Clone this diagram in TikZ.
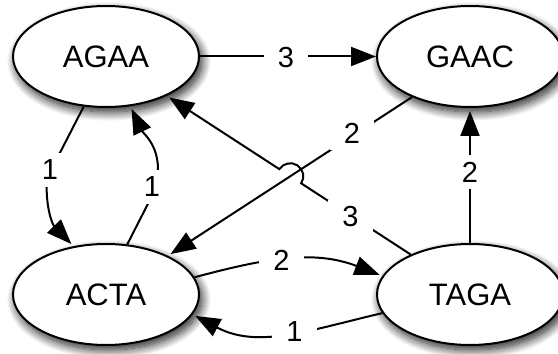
\documentclass[tikz,border=0pt]{standalone}
\usepackage{fontspec}
\setmainfont{Liberation Sans}
\usetikzlibrary{shapes.geometric,arrows.meta,calc,shadows.blur}
\begin{document}
\begin{tikzpicture}[x=1pt,y=1pt,
  state/.style={ellipse, draw=black, line width=2pt, fill=white,
    minimum width=186pt, minimum height=101pt, inner sep=0pt,
    font=\fontsize{31}{36}\selectfont,
    blur shadow={shadow xshift=3pt, shadow yshift=-5pt,
      shadow blur radius=9pt, shadow blur steps=16, shadow opacity=90}},
  weight/.style={fill=white, inner xsep=14pt, inner ysep=7pt,
    font=\fontsize{29}{34}\selectfont},
  link/.style={line width=2pt, -{Triangle[length=25pt,width=19pt]}},
]
\useasboundingbox (0,0) rectangle (558,354);

% states
\node[state] (AGAA) at (106,297.5) {AGAA};
\node[state] (GAAC) at (470,297.5) {GAAC};
\node[state] (ACTA) at (106,59.5) {ACTA};
\node[state] (TAGA) at (470,59.5) {TAGA};

% transitions
\draw[link] (AGAA) -- (GAAC);
\draw[link, shorten >=3pt] (AGAA.246) -- (47,176)
  .. controls (45,149) and (52,130) .. (ACTA.124);
\draw[link, shorten >=3pt] (ACTA.67) -- (155,164)
  .. controls (166,204) and (143.3,220.3) .. (AGAA.296);
\draw[link, shorten >=3pt] (GAAC.215) -- (ACTA.32);

% crossing point, where the TAGA->AGAA line hops over
\coordinate (X) at (intersection of GAAC.215--ACTA.32 and TAGA.146--AGAA.327);
\draw[link, shorten >=3pt]
  let \p1 = ($(AGAA.327)-(TAGA.146)$), \n1 = {atan2(\y1,\x1)} in
  (TAGA.146) -- ($(X)!13pt!(TAGA.146)$)
  arc[start angle=\n1-180, end angle=\n1, radius=13pt] -- (AGAA.327);

\draw[link, shorten >=3pt] (ACTA.11) to[out=15, in=159] (TAGA.168);
\draw[link, shorten >=3pt] (TAGA.192) to[out=193, in=332] (ACTA.347);
\draw[link, shorten >=3pt] (TAGA) -- (GAAC);

% weights
\node[weight] (w1) at (286,296.5) {3};
\node[weight] (w2) at (50,184) {1};
\node[weight] (w3) at (152,167) {1};
\node[weight] (w4) at (352,221) {2};
\node[weight] (w5) at (350.5,137) {3};
\node[weight] (w6) at (281.5,94) {2};
\node[weight] (w7) at (294.5,22) {1};
\node[weight] (w8) at (470,182) {2};
\end{tikzpicture}
\end{document}
